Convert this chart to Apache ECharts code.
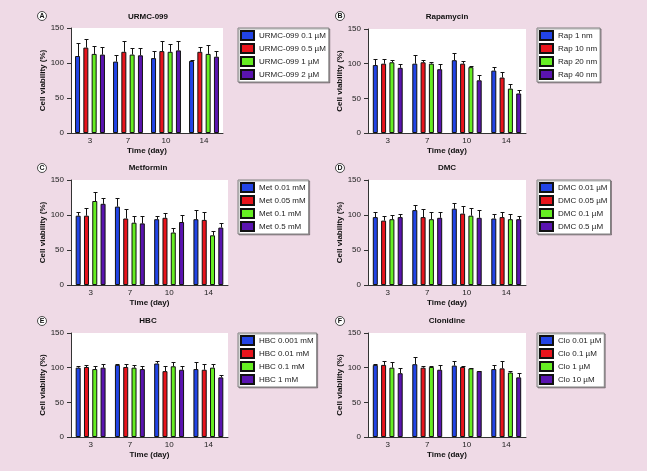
<!DOCTYPE html>
<html>
<head>
<meta charset="utf-8">
<script src="https://cdn.jsdelivr.net/npm/echarts@6/dist/echarts.min.js"></script>
<style>
html,body{margin:0;padding:0;background:#efdae6;}
#main{width:647px;height:471px;}
</style>
</head>
<body>
<div id="main"></div>
<script>
// ---- data ----
const days = ['3', '7', '10', '14'];
const yTicks = [0, 50, 100, 150];
const panelTitles = ['URMC-099', 'Rapamycin', 'Metformin', 'DMC', 'HBC', 'Clonidine'];
const panelLetters = ['A', 'B', 'C', 'D', 'E', 'F'];

const urmcNames = ['URMC-099 0.1 µM', 'URMC-099 0.5 µM', 'URMC-099 1 µM', 'URMC-099 2 µM'];
const urmcMean = [[110, 102, 107, 103], [122, 116, 117, 116], [113, 112, 116, 113], [112, 111, 118, 109]];
const urmcSd   = [[18, 9, 10, 2], [12, 15, 14, 7], [11, 9, 11, 13], [11, 10, 13, 8]];

const rapNames = ['Rap 1 nm', 'Rap 10 nm', 'Rap 20 nm', 'Rap 40 nm'];
const rapMean = [[98, 100, 105, 90], [100, 102, 100, 80], [102, 100, 95, 64], [94, 92, 76, 57]];
const rapSd   = [[9, 13, 11, 5], [7, 4, 4, 8], [4, 2, 2, 6], [5, 8, 7, 5]];

const metNames = ['Met 0.01 mM', 'Met 0.05 mM', 'Met 0.1 mM', 'Met 0.5 mM'];
const metMean = [[99, 112, 94, 94], [99, 95, 96, 93], [120, 89, 75, 71], [116, 88, 90, 82]];
const metSd   = [[6, 12, 5, 13], [11, 13, 7, 12], [13, 9, 6, 6], [9, 11, 10, 6]];

const dmcNames = ['DMC 0.01 µM', 'DMC 0.05 µM', 'DMC 0.1 µM', 'DMC 0.5 µM'];
const dmcMean = [[97, 107, 109, 95], [92, 97, 102, 97], [94, 94, 99, 94], [97, 96, 96, 94]];
const dmcSd   = [[7, 7, 8, 7], [7, 12, 11, 8], [6, 10, 11, 7], [5, 8, 11, 5]];

const hbcNames = ['HBC 0.001 mM', 'HBC 0.01 mM', 'HBC 0.1 mM', 'HBC 1 mM'];
const hbcMean = [[100, 104, 106, 98], [101, 101, 95, 97], [98, 100, 102, 100], [100, 98, 97, 86]];
const hbcSd   = [[3, 2, 4, 10], [3, 5, 8, 8], [4, 4, 6, 5], [5, 5, 6, 3]];

const cloNames = ['Clo 0.01 µM', 'Clo 0.1 µM', 'Clo 1 µM', 'Clo 10 µM'];
const cloMean = [[104, 105, 103, 98], [104, 100, 101, 99], [100, 101, 99, 93], [92, 97, 95, 86]];
const cloSd   = [[2, 11, 6, 6], [5, 2, 2, 10], [8, 1, 1, 2], [7, 7, 0.5, 6]];

// ---- styles / layout ----
const colors = ['#2244e6', '#e8141c', '#66ee22', '#5a14b0'];
const FONT = '"Liberation Sans", Arial, Helvetica, sans-serif';
const BAR_W = 5;
const GAP = 0.66;

const panels = [
  {names: urmcNames, mean: urmcMean, sd: urmcSd, grid: {left: 71, top: 28, width: 152, height: 105}, legend: {left: 238, top: 28}, title: [148, 17], letter: [42, 16]},
  {names: rapNames, mean: rapMean, sd: rapSd, grid: {left: 368, top: 29, width: 158, height: 104}, legend: {left: 537, top: 28}, title: [447, 17], letter: [340, 16]},
  {names: metNames, mean: metMean, sd: metSd, grid: {left: 71, top: 180, width: 157, height: 105}, legend: {left: 238, top: 180}, title: [148, 168], letter: [42, 168]},
  {names: dmcNames, mean: dmcMean, sd: dmcSd, grid: {left: 368, top: 180, width: 158, height: 105}, legend: {left: 537, top: 180}, title: [447, 168], letter: [340, 168]},
  {names: hbcNames, mean: hbcMean, sd: hbcSd, grid: {left: 71, top: 333, width: 157, height: 104}, legend: {left: 238, top: 333}, title: [148, 321], letter: [42, 321]},
  {names: cloNames, mean: cloMean, sd: cloSd, grid: {left: 368, top: 333, width: 158, height: 104}, legend: {left: 537, top: 333}, title: [447, 321], letter: [340, 321]}
];

const grids = [], xAxes = [], yAxes = [], legends = [], series = [], graphics = [];

panels.forEach((p, pi) => {
  grids.push(Object.assign({show: true, backgroundColor: '#ffffff', borderWidth: 0}, p.grid));
  xAxes.push({
    type: 'category', gridIndex: pi, data: days,
    axisLine: {lineStyle: {color: '#333', width: 1}},
    axisTick: {alignWithLabel: true, length: 3, lineStyle: {color: '#333'}},
    axisLabel: {fontSize: 8, color: '#222', margin: 4, fontFamily: FONT},
    name: 'Time (day)', nameLocation: 'middle', nameGap: 14,
    nameTextStyle: {fontSize: 8, fontWeight: 'bold', color: '#111', fontFamily: FONT}
  });
  yAxes.push({
    type: 'value', gridIndex: pi, min: yTicks[0], max: yTicks[yTicks.length - 1], interval: 50,
    axisLine: {show: true, lineStyle: {color: '#333', width: 1}},
    axisTick: {show: true, length: 4, lineStyle: {color: '#333'}},
    axisLabel: {fontSize: 8, color: '#222', margin: 7, fontFamily: FONT},
    splitLine: {show: false},
    name: 'Cell viability (%)', nameLocation: 'middle', nameGap: 22, nameRotate: 90,
    nameTextStyle: {fontSize: 8, fontWeight: 'bold', color: '#111', fontFamily: FONT}
  });
  legends.push({
    left: p.legend.left, top: p.legend.top, orient: 'vertical',
    icon: 'rect',
    itemWidth: 13, itemHeight: 9, itemGap: 2,
    backgroundColor: '#ffffff', borderColor: '#808080', borderWidth: 1,
    shadowColor: 'rgba(0,0,0,0.3)', shadowOffsetX: 1, shadowOffsetY: 1, shadowBlur: 0,
    padding: [2, 3, 2, 2], selectedMode: false,
    textStyle: {fontSize: 8, color: '#222', fontFamily: FONT, lineHeight: 9},
    data: p.names
  });
  p.names.forEach((nm, k) => {
    series.push({
      type: 'bar', name: nm, xAxisIndex: pi, yAxisIndex: pi,
      data: p.mean[k], barWidth: BAR_W, barGap: Math.round(GAP * 100) + '%',
      itemStyle: {color: colors[k], borderColor: '#111', borderWidth: 1},
      emphasis: {disabled: true}, animation: false
    });
  });
  const errData = [];
  p.names.forEach((nm, k) => {
    p.mean[k].forEach((m, ci) => errData.push([ci, k, m, m + p.sd[k][ci]]));
  });
  series.push({
    type: 'custom', xAxisIndex: pi, yAxisIndex: pi, z: 5, animation: false,
    encode: {x: 0, y: [2, 3]},
    data: errData,
    renderItem: (params, api) => {
      const ci = api.value(0), k = api.value(1);
      const base = api.coord([ci, api.value(2)]);
      const top = api.coord([ci, api.value(3)]);
      const x = Math.round(base[0] + (k - 1.5) * BAR_W * (1 + GAP)) + 0.5;
      const ty = Math.round(top[1]) + 0.5;
      return {type: 'group', children: [
        {type: 'line', shape: {x1: x, y1: base[1], x2: x, y2: ty}, style: {stroke: '#111', lineWidth: 1}},
        {type: 'line', shape: {x1: x - 2, y1: ty, x2: x + 2, y2: ty}, style: {stroke: '#111', lineWidth: 1}}
      ]};
    }
  });
  graphics.push({
    type: 'text', x: p.title[0], y: p.title[1],
    style: {text: panelTitles[pi], fill: '#111', font: 'bold 8px ' + FONT, textAlign: 'center', textVerticalAlign: 'middle'}
  });
  graphics.push({
    type: 'circle', shape: {cx: p.letter[0], cy: p.letter[1], r: 4.5},
    style: {fill: '#ffffff', stroke: '#222', lineWidth: 0.8}
  });
  graphics.push({
    type: 'text', x: p.letter[0], y: p.letter[1] + 0.5,
    style: {text: panelLetters[pi], fill: '#111', font: 'bold 7px ' + FONT, textAlign: 'center', textVerticalAlign: 'middle'}
  });
});

const chart = echarts.init(document.getElementById('main'), null, {renderer: 'canvas'});
chart.setOption({
  backgroundColor: '#efdae6',
  animation: false,
  grid: grids, xAxis: xAxes, yAxis: yAxes, legend: legends,
  series: series, graphic: graphics
});
</script>
</body>
</html>
